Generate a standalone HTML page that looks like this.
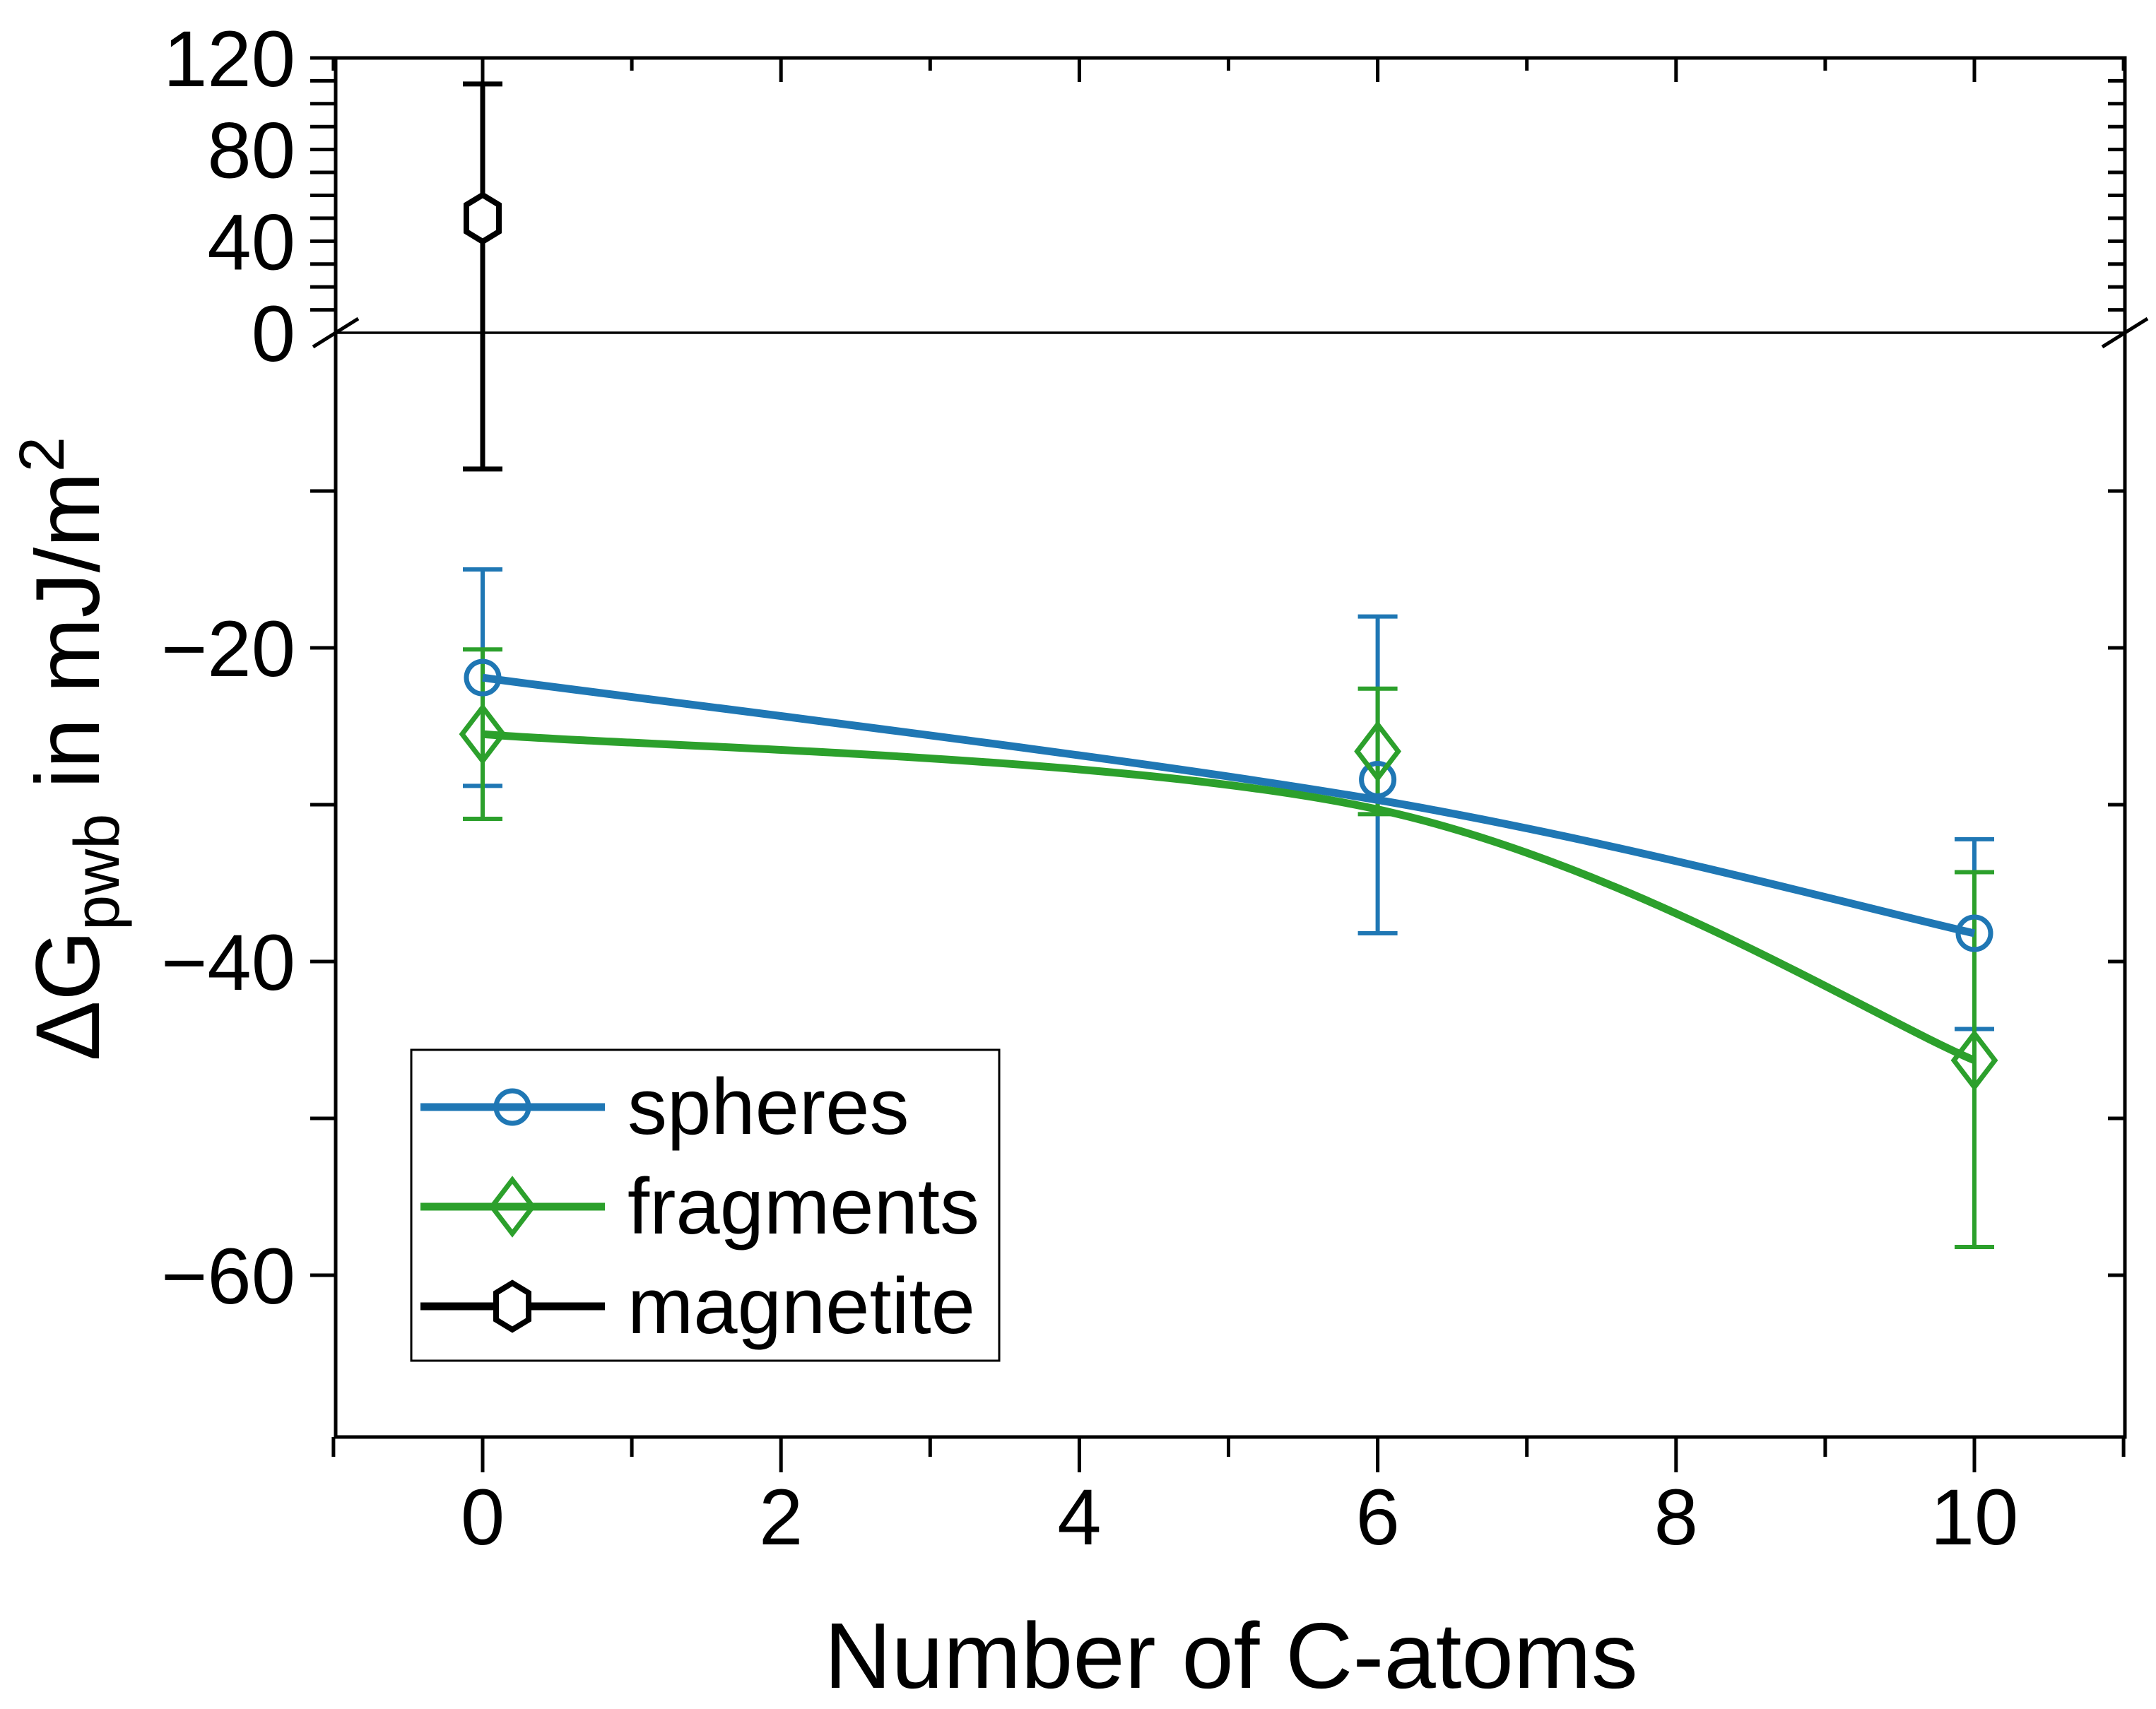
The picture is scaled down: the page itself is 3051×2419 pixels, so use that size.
<!DOCTYPE html>
<html><head><meta charset="utf-8"><style>
html,body{margin:0;padding:0;background:#fff;}
svg{display:block;font-family:"Liberation Sans",Arial,sans-serif;}
</style></head><body>
<svg id="chart" width="3051" height="2419" viewBox="0 0 3051 2419" xmlns="http://www.w3.org/2000/svg">
<g id="axes"></g>
<g id="series"></g>
<g id="legend">
  <rect x="582" y="1486" width="832" height="440" fill="#fff" stroke="#000" stroke-width="3"/>
</g>
<text x="1742" y="2389" font-size="132" text-anchor="middle">Number of C-atoms</text>
<text transform="translate(140,1060) rotate(-90)" font-size="128" text-anchor="middle">ΔG<tspan font-size="90" dy="28">pwb</tspan><tspan dy="-28"> in mJ/m</tspan><tspan font-size="90" dy="-50">2</tspan></text>
</svg>
<script>
const xCats = [0, 6, 10];
const spheres = [-21.9, -28.4, -38.2];
const spheresErrHi = [-15.0, -18.0, -32.2];
const spheresErrLo = [-28.8, -38.2, -44.3];
const fragments = [-25.5, -26.6, -46.3];
const fragmentsErrHi = [-20.1, -22.6, -34.3];
const fragmentsErrLo = [-30.9, -30.6, -58.2];
const spheresFit = [-21.9, -29.7, -38.2];
const fragmentsFit = [-25.5, -30.3, -46.3];
const magX = [0];
const magnetite = [50];
const magErrHi = [108.6];
const magErrLo = [-8.6];
const xTicks = [0, 2, 4, 6, 8, 10];
const yTicksUpper = [0, 40, 80, 120];
const yTicksLower = [-20, -40, -60];

const NS = "http://www.w3.org/2000/svg";
const L = 475, R = 3007, T = 82, B = 2034, BRK = 471;
function sx(v){ return 683 + v * 211.1; }
function sy(v){ return v >= 0 ? 471 - v * 3.242 : 473 - v * 22.2; }
function mk(tag, attrs, parent){
  const e = document.createElementNS(NS, tag);
  for (const k in attrs) e.setAttribute(k, attrs[k]);
  parent.appendChild(e); return e;
}
const axes = document.getElementById('axes');
const ser = document.getElementById('series');

let e;
e = mk('rect', {x:L, y:T, width:R-L, height:B-T, fill:'none', stroke:'#000', 'stroke-width':5}, axes);


e = mk('line', {x1:L, y1:BRK, x2:R, y2:BRK, stroke:'#000', 'stroke-width':3.5}, axes);


[L, R].forEach(function(xx){
  e = mk('line', {x1:xx-32, y1:BRK+20, x2:xx+32, y2:BRK-20, stroke:'#000', 'stroke-width':5}, axes);
  
  
});
for (let i = -1; i <= 11; i++) {
  const major = i % 2 === 0;
  const x = sx(i);
  if (x < L - 12 || x > R + 2) continue;
  e = mk('line', {x1:x, y1:B, x2:x, y2:B + (major ? 50 : 28), stroke:'#000', 'stroke-width':5}, axes);
  
  
  e = mk('line', {x1:x, y1:T, x2:x, y2:T + (major ? 34 : 18), stroke:'#000', 'stroke-width':5}, axes);
  
  
}
xTicks.forEach(function(v){
  e = mk('text', {x:sx(v), y:2186, 'font-size':112, 'text-anchor':'middle'}, axes);
  e.textContent = v;
  
  
});
for (let v = 10; v <= 120; v += 10) {
  const y = sy(v);
  e = mk('line', {x1:L-36, y1:y, x2:L, y2:y, stroke:'#000', 'stroke-width':5}, axes);
  
  
  e = mk('line', {x1:R-24, y1:y, x2:R, y2:y, stroke:'#000', 'stroke-width':5}, axes);
  
  
}
for (let v = -10; v >= -60; v -= 10) {
  const y = sy(v);
  e = mk('line', {x1:L-36, y1:y, x2:L, y2:y, stroke:'#000', 'stroke-width':5}, axes);
  
  
  e = mk('line', {x1:R-24, y1:y, x2:R, y2:y, stroke:'#000', 'stroke-width':5}, axes);
  
  
}
yTicksUpper.concat(yTicksLower).forEach(function(v){
  e = mk('text', {x:418, y:sy(v)+40, 'font-size':112, 'text-anchor':'end'}, axes);
  e.textContent = v < 0 ? '\u2212' + (-v) : String(v);
  
  
});

function catmull(xs, ys){
  const p = xs.map(function(x,i){ return [sx(x), sy(ys[i])]; });
  let d = 'M' + p[0][0] + ',' + p[0][1];
  for (let i = 0; i < p.length - 1; i++) {
    const p0 = p[Math.max(0,i-1)], p1 = p[i], p2 = p[i+1], p3 = p[Math.min(p.length-1,i+2)];
    const c1 = [p1[0] + (p2[0]-p0[0])/6, p1[1] + (p2[1]-p0[1])/6];
    const c2 = [p2[0] - (p3[0]-p1[0])/6, p2[1] - (p3[1]-p1[1])/6];
    d += ' C' + c1[0] + ',' + c1[1] + ' ' + c2[0] + ',' + c2[1] + ' ' + p2[0] + ',' + p2[1];
  }
  return d;
}
function errBars(xs, hi, lo, color, name, w){
  xs.forEach(function(x,i){
    const X = sx(x);
    e = mk('path', {d:'M'+X+','+sy(hi[i])+'V'+sy(lo[i])+'M'+(X-28)+','+sy(hi[i])+'h56M'+(X-28)+','+sy(lo[i])+'h56', stroke:color, 'stroke-width':w, fill:'none'}, ser);
    
    
  });
}
const BLUE = '#1f77b4', GREEN = '#2ca02c';
errBars(xCats, spheresErrHi, spheresErrLo, BLUE, 'spheres-error-bar', 6);
errBars(xCats, fragmentsErrHi, fragmentsErrLo, GREEN, 'fragments-error-bar', 6);
errBars(magX, magErrHi, magErrLo, '#000', 'magnetite-error-bar', 7);
e = mk('path', {d:catmull(xCats, spheresFit), stroke:BLUE, 'stroke-width':11, fill:'none'}, ser);


e = mk('path', {d:catmull(xCats, fragmentsFit), stroke:GREEN, 'stroke-width':11, fill:'none'}, ser);



function circle(cx, cy, parent){ return mk('circle', {cx:cx, cy:cy, r:23, fill:'none', stroke:BLUE, 'stroke-width':7}, parent); }
function diamond(cx, cy, parent){ return mk('path', {d:'M'+cx+','+(cy-38)+'L'+(cx+29)+','+cy+'L'+cx+','+(cy+38)+'L'+(cx-29)+','+cy+'Z', fill:'none', stroke:GREEN, 'stroke-width':7}, parent); }
function hexagon(cx, cy, parent){ return mk('path', {d:'M'+cx+','+(cy-33)+'L'+(cx+23)+','+(cy-19)+'L'+(cx+23)+','+(cy+19)+'L'+cx+','+(cy+33)+'L'+(cx-23)+','+(cy+19)+'L'+(cx-23)+','+(cy-19)+'Z', fill:'#fff', stroke:'#000', 'stroke-width':8}, parent); }
xCats.forEach(function(x,i){
  e = circle(sx(x), sy(spheres[i]), ser);
  
  
  e = diamond(sx(x), sy(fragments[i]), ser);
  
  
});
magX.forEach(function(x,i){
  e = hexagon(sx(x), sy(magnetite[i]), ser);
  
  
});

const leg = document.getElementById('legend');
const legendNames = ['spheres', 'fragments', 'magnetite'];
const legendColors = [BLUE, GREEN, '#000'];
legendNames.forEach(function(n, i){
  const y = 1567 + i * 141;
  const g = mk('g', {}, leg);
  
  
  mk('line', {x1:595, y1:y, x2:856, y2:y, stroke:legendColors[i], 'stroke-width':11}, g);
  if (i === 0) circle(725, y, g); else if (i === 1) diamond(725, y, g); else hexagon(725, y, g);
  const t = mk('text', {x:888, y:y + 38, 'font-size':112}, g);
  t.textContent = n;
});
</script>
</body></html>
